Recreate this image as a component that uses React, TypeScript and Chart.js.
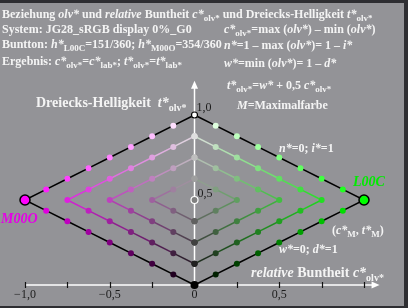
import React, { useEffect, useRef } from "react";
import { Chart, registerables } from "chart.js";

Chart.register(...registerables);

// ---- data ----
const gridC4 = [0, 0.125, 0.25, 0.375, 0.5, 0.625, 0.75, 0.875, 1, 0.875, 0.75, 0.625, 0.5, 0.375, 0.25, 0.125, 0];
const gridT4 = [1, 0.9375, 0.875, 0.8125, 0.75, 0.6875, 0.625, 0.5625, 0.5, 0.4375, 0.375, 0.3125, 0.25, 0.1875, 0.125, 0.0625, 0];
const gridC3 = [0, 0.125, 0.25, 0.375, 0.5, 0.625, 0.75, 0.625, 0.5, 0.375, 0.25, 0.125, 0];
const gridT3 = [0.875, 0.8125, 0.75, 0.6875, 0.625, 0.5625, 0.5, 0.4375, 0.375, 0.3125, 0.25, 0.1875, 0.125];
const gridC2 = [0, 0.125, 0.25, 0.375, 0.5, 0.375, 0.25, 0.125, 0];
const gridT2 = [0.75, 0.6875, 0.625, 0.5625, 0.5, 0.4375, 0.375, 0.3125, 0.25];
const gridC1 = [0, 0.125, 0.25, 0.125, 0];
const gridT1 = [0.625, 0.5625, 0.5, 0.4375, 0.375];
const axisT = [0, 0.125, 0.25, 0.375, 0.5, 0.625, 0.75, 0.875, 1];
const endpointC = [-1, 1];
const endpointT = [0.5, 0.5];
const magentaRGB = [1, 0, 1];
const greenRGB = [0, 1, 0];
const xTicks = [-1, -0.75, -0.5, -0.25, 0, 0.25, 0.5, 0.75, 1];
const xTickLabels = ["\u22121,0", "", "\u22120,5", "", "0", "", "0,5", "", ""];
const yTicks = [0.25, 0.5, 0.75, 1];

const FONT = '"Liberation Serif", "Times New Roman", serif';
const W = 413;
const H = 308;

function olvColor(c: number, t: number, hue: number[]): string {
  const ac = Math.abs(c);
  const w = t - ac / 2;
  const ch = (k: number) => Math.max(0, Math.min(255, Math.round((w + ac * hue[k]) * 255)));
  return `rgb(${ch(0)},${ch(1)},${ch(2)})`;
}

type Run = [string, string?];

function drawRich(ctx: CanvasRenderingContext2D, x: number, y: number, runs: Run[], size: number, color: string) {
  let cx = x;
  ctx.fillStyle = color;
  ctx.textAlign = "left";
  ctx.textBaseline = "alphabetic";
  for (const [txt, st] of runs) {
    let dy = 0;
    if (st === "s") {
      ctx.font = `bold ${Math.round(size * 0.72)}px ${FONT}`;
      dy = size * 0.28;
    } else if (st === "i") {
      ctx.font = `italic bold ${size}px ${FONT}`;
    } else if (st === "r") {
      ctx.font = `${size}px ${FONT}`;
    } else {
      ctx.font = `bold ${size}px ${FONT}`;
    }
    ctx.fillText(txt, cx, y + dy);
    cx += ctx.measureText(txt).width;
  }
}

function chevronDataset(cs: number[], ts: number[], sign: number, hue: number[], outer: boolean) {
  const data = cs.map((c, i) => ({ x: sign * c, y: ts[i] }));
  const colors = cs.map((c, i) => olvColor(c, ts[i], hue));
  return {
    data,
    showLine: true,
    borderColor: "#000",
    borderWidth: outer ? 1.6 : 1.4,
    pointRadius: 3,
    pointBorderWidth: 0,
    pointBackgroundColor: colors,
    pointBorderColor: colors,
    clip: false as const,
    segment: outer
      ? undefined
      : {
          borderColor: (ctx: any) => {
            const a = ctx.p0DataIndex;
            const b = ctx.p1DataIndex;
            return olvColor((cs[a] + cs[b]) / 2, (ts[a] + ts[b]) / 2, hue);
          },
        },
  };
}

const backgroundPlugin = {
  id: "bgAxes",
  beforeDraw(chart: any) {
    const ctx = chart.ctx as CanvasRenderingContext2D;
    ctx.save();
    ctx.fillStyle = "#ffffff";
    ctx.fillRect(0, 0, W, H);
    ctx.fillStyle = "#2e2e32";
    ctx.fillRect(0, 0, 408, H);
    ctx.fillStyle = "rgb(147,147,151)";
    ctx.fillRect(0, 3, 404, 303);
    ctx.restore();
  },
  beforeDatasetsDraw(chart: any) {
    const ctx = chart.ctx as CanvasRenderingContext2D;
    const xs = chart.scales.x;
    const ys = chart.scales.y;
    const x0 = xs.getPixelForValue(0);
    const y0 = ys.getPixelForValue(0);
    ctx.save();
    ctx.strokeStyle = "#ffffff";
    ctx.fillStyle = "#ffffff";
    ctx.lineWidth = 1.5;
    // horizontal axis
    const xEnd = xs.getPixelForValue(1.08);
    ctx.beginPath();
    ctx.moveTo(xs.getPixelForValue(-1), y0);
    ctx.lineTo(xEnd - 4, y0);
    ctx.stroke();
    ctx.beginPath();
    ctx.moveTo(xEnd + 2, y0);
    ctx.lineTo(xEnd - 6, y0 - 3.5);
    ctx.lineTo(xEnd - 6, y0 + 3.5);
    ctx.closePath();
    ctx.fill();
    // vertical axis
    const yEnd = ys.getPixelForValue(1.19);
    ctx.beginPath();
    ctx.moveTo(x0, y0);
    ctx.lineTo(x0, yEnd + 4);
    ctx.stroke();
    ctx.beginPath();
    ctx.moveTo(x0, yEnd - 2);
    ctx.lineTo(x0 - 3.5, yEnd + 6);
    ctx.lineTo(x0 + 3.5, yEnd + 6);
    ctx.closePath();
    ctx.fill();
    // ticks
    ctx.strokeStyle = "#111";
    ctx.lineWidth = 1.2;
    for (const v of xTicks) {
      const px = Math.round(xs.getPixelForValue(v)) + 0.5;
      ctx.beginPath();
      ctx.moveTo(px, y0 - 3);
      ctx.lineTo(px, y0 + 3);
      ctx.stroke();
    }
    for (const v of yTicks) {
      const py = ys.getPixelForValue(v);
      ctx.beginPath();
      ctx.moveTo(x0 - 3, py);
      ctx.lineTo(x0 + 3, py);
      ctx.stroke();
    }
    // tick labels
    ctx.fillStyle = "#1c1c1c";
    ctx.font = `12px ${FONT}`;
    ctx.textAlign = "center";
    ctx.textBaseline = "alphabetic";
    xTicks.forEach((v, i) => {
      if (xTickLabels[i]) ctx.fillText(xTickLabels[i], xs.getPixelForValue(v), y0 + 13);
    });
    ctx.textAlign = "left";
    ctx.fillText("1,0", x0 + 2, ys.getPixelForValue(1) - 4);
    ctx.fillText("0,5", x0 + 3, ys.getPixelForValue(0.5) - 3);
    ctx.restore();
  },
  afterDraw(chart: any) {
    const ctx = chart.ctx as CanvasRenderingContext2D;
    ctx.save();
    const white = "#f4f4f4";
    drawRich(ctx, 2, 18, [["Beziehung "], ["olv*", "i"], [" und "], ["relative", "i"], [" Buntheit "], ["c*", "i"], ["olv*", "s"], [" und Dreiecks-Helligkeit "], ["t*", "i"], ["olv*", "s"]], 12, white);
    drawRich(ctx, 2, 33, [["System: JG28_sRGB display 0%_G0"]], 12, white);
    drawRich(ctx, 2, 48, [["Buntton: "], ["h*", "i"], ["L00C", "s"], ["=151/360; "], ["h*", "i"], ["M00O", "s"], ["=354/360"]], 12, white);
    drawRich(ctx, 2, 65, [["Ergebnis: "], ["c*", "i"], ["olv*", "s"], ["="], ["c*", "i"], ["lab*", "s"], ["; "], ["t*", "i"], ["olv*", "s"], ["="], ["t*", "i"], ["lab*", "s"]], 12, white);

    drawRich(ctx, 224, 33, [["c*", "i"], ["olv*", "s"], ["=max ("], ["olv*", "i"], [") \u2013 min ("], ["olv*", "i"], [")"]], 12, white);
    drawRich(ctx, 224, 49, [["n*", "i"], ["=1 \u2013 max ("], ["olv*", "i"], [")= 1 \u2013 "], ["i*", "i"]], 12, white);
    drawRich(ctx, 224, 67, [["w*", "i"], ["=min ("], ["olv*", "i"], [")= 1 \u2013 "], ["d*", "i"]], 12, white);
    drawRich(ctx, 227, 89, [["t*", "i"], ["olv*", "s"], ["="], ["w*", "i"], [" + 0,5 "], ["c*", "i"], ["olv*", "s"]], 12, white);
    drawRich(ctx, 237, 109, [["M", "i"], ["=Maximalfarbe"]], 12, white);

    drawRich(ctx, 36, 107, [["Dreiecks-Helligkeit  "], ["t*", "i"], ["olv*", "s"]], 14, white);
    drawRich(ctx, 279, 152, [["n*", "i"], ["=0; "], ["i*", "i"], ["=1"]], 12, white);
    drawRich(ctx, 353, 186, [["L00C", "i"]], 14, "rgb(0,235,0)");
    drawRich(ctx, 1, 223, [["M00O", "i"]], 14, "rgb(230,0,230)");
    drawRich(ctx, 332, 234, [["(", "b"], ["c*", "i"], ["M", "s"], [", "], ["t*", "i"], ["M", "s"], [")"]], 12, white);
    drawRich(ctx, 279, 253, [["w*", "i"], ["=0; "], ["d*", "i"], ["=1"]], 12, white);
    drawRich(ctx, 251, 277, [["relative", "i"], [" Buntheit "], ["c*", "i"], ["olv*", "s"]], 14, white);
    ctx.restore();
  },
};

export default function App() {
  const ref = useRef<HTMLCanvasElement | null>(null);
  useEffect(() => {
    if (!ref.current) return;
    const axisColors = axisT.map((t) => olvColor(0, t, magentaRGB));
    const axisBorder = axisT.map((t) => (t === 1 ? "#000" : t === 0.5 ? "#fff" : olvColor(0, t, magentaRGB)));
    const axisRadius = axisT.map((t) => (t === 0 ? 4 : t === 0.5 ? 3.5 : 3));
    const axisBW = axisT.map((t) => (t === 1 || t === 0.5 ? 1.2 : 0));
    const chart = new Chart(ref.current, {
      type: "scatter",
      data: {
        datasets: [
          {
            data: endpointC.map((c, i) => ({ x: c, y: endpointT[i] })),
            showLine: false,
            pointRadius: 5,
            pointBorderWidth: 1.5,
            pointBorderColor: "#000",
            pointBackgroundColor: [olvColor(1, 0.5, magentaRGB), olvColor(1, 0.5, greenRGB)],
            clip: false,
          } as any,
          {
            data: axisT.map((t) => ({ x: 0, y: t })),
            showLine: false,
            pointRadius: axisRadius,
            pointBorderWidth: axisBW,
            pointBorderColor: axisBorder,
            pointBackgroundColor: axisColors,
            clip: false,
          } as any,
          chevronDataset(gridC4, gridT4, -1, magentaRGB, true) as any,
          chevronDataset(gridC4, gridT4, 1, greenRGB, true) as any,
          chevronDataset(gridC3, gridT3, -1, magentaRGB, false) as any,
          chevronDataset(gridC3, gridT3, 1, greenRGB, false) as any,
          chevronDataset(gridC2, gridT2, -1, magentaRGB, false) as any,
          chevronDataset(gridC2, gridT2, 1, greenRGB, false) as any,
          chevronDataset(gridC1, gridT1, -1, magentaRGB, false) as any,
          chevronDataset(gridC1, gridT1, 1, greenRGB, false) as any,
        ],
      },
      options: {
        responsive: false,
        animation: false,
        devicePixelRatio: 1,
        layout: { padding: { left: 25, right: 49, top: 115, bottom: 23 } },
        scales: {
          x: { type: "linear", min: -1, max: 1, display: false },
          y: { type: "linear", min: 0, max: 1, display: false },
        },
        plugins: { legend: { display: false }, tooltip: { enabled: false } },
        events: [],
      },
      plugins: [backgroundPlugin],
    });
    return () => chart.destroy();
  }, []);
  return (
    <div style={{ position: "absolute", left: 0, top: 0, width: W, height: H }}>
      <canvas ref={ref} width={W} height={H} style={{ width: W, height: H, display: "block" }} />
    </div>
  );
}
